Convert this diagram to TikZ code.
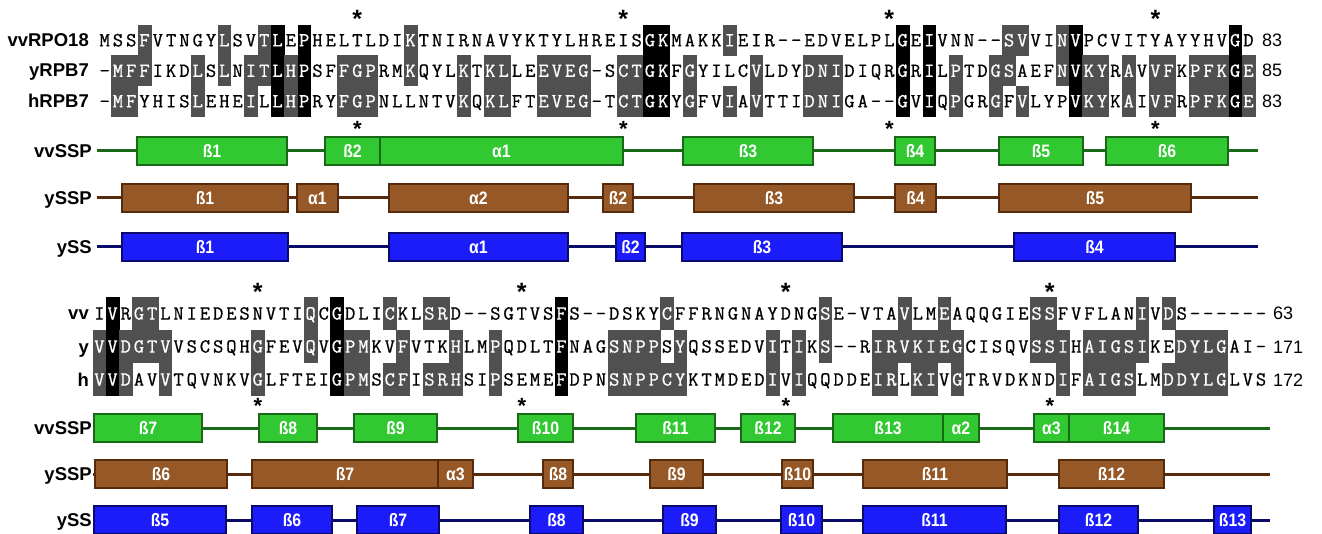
\documentclass[tikz,border=0pt]{standalone}
\usepackage{fontspec}
\setmainfont{Liberation Sans}
\setmonofont{Latin Modern Mono}[FakeBold=0.8]
\newfontfamily\elfont{Liberation Sans}[FakeStretch=0.88]
\usepackage{xstring}

\definecolor{idgray}{RGB}{80,80,80}
\definecolor{vvfill}{RGB}{50,200,50}
\definecolor{vvdark}{RGB}{25,105,25}
\definecolor{ysspfill}{RGB}{150,88,38}
\definecolor{ysspdark}{RGB}{88,42,12}
\definecolor{yssfill}{RGB}{28,28,250}
\definecolor{yssdark}{RGB}{10,10,105}

\pgfdeclarelayer{background}
\pgfsetlayers{background,main}

\tikzset{
  res/.style={font=\ttfamily\fontsize{20}{20}\selectfont, inner sep=0pt, anchor=base},
  seqname/.style={font=\bfseries\fontsize{18.5}{18.5}\selectfont, inner sep=0pt, anchor=base east},
  seqnum/.style={font=\fontsize{18}{18}\selectfont, inner sep=0pt, anchor=base west},
  star/.style={font=\bfseries\fontsize{25}{25}\selectfont, inner sep=0pt, anchor=base,
    text depth=-9pt},
  ssstar/.style={star, font=\bfseries\fontsize{22}{22}\selectfont, text depth=-8pt},
  element/.style={inner sep=0pt, minimum height=28.5pt, line width=1.8pt, text=white,
    font=\elfont\bfseries\fontsize{18}{18}\selectfont},
  vvel/.style={element, draw=vvdark, fill=vvfill},
  ysspel/.style={element, draw=ysspdark, fill=ysspfill},
  yssel/.style={element, draw=yssdark, fill=yssfill},
  vvline/.style={vvdark, line width=3pt},
  ysspline/.style={ysspdark, line width=3pt},
  yssline/.style={yssdark, line width=3pt}
}

% one residue: name, x-left, y-top, width, height, state (0 none, 1 pair, 2 all), letter
\newcommand{\rescell}[7]{%
  \ifcase#6\relax
    \node[res] (#1) at ({#2+#4/2},{#3+#5/2+6.1}) {#7};
  \or
    \begin{pgfonlayer}{background}
      \fill[idgray] (#2,#3) rectangle ++({#4+0.4},{#5+0.4});
    \end{pgfonlayer}
    \node[res, text=white] (#1) at ({#2+#4/2},{#3+#5/2+6.1}) {#7};
  \or
    \begin{pgfonlayer}{background}
      \fill[black] (#2,#3) rectangle ++({#4+0.4},{#5+0.4});
    \end{pgfonlayer}
    \node[res, text=white] (#1) at ({#2+#4/2},{#3+#5/2+6.1}) {#7};
  \fi}

\def\gapres{-}
% alignment block: x0, column width, y-top, row height, columns, three sequences, prefix
\newcommand{\alignblock}[9]{%
  \pgfmathsetmacro\rowb{#3+#4}%
  \pgfmathsetmacro\rowc{#3+2*#4}%
  \foreach \i in {1,...,#5}{%
    \StrChar{#6}{\i}[\resA]\StrChar{#7}{\i}[\resB]\StrChar{#8}{\i}[\resC]%
    \edef\resA{\resA}\edef\resB{\resB}\edef\resC{\resC}%
    \def\stA{0}\def\stB{0}\def\stC{0}%
    \ifx\resA\resB\def\stA{1}\def\stB{1}\fi
    \ifx\resA\resC\def\stA{1}\def\stC{1}\fi
    \ifx\resB\resC\def\stB{1}\def\stC{1}\fi
    \ifx\resA\resB\ifx\resB\resC\def\stA{2}\def\stB{2}\def\stC{2}\fi\fi
    \ifx\resA\gapres\def\stA{0}\fi
    \ifx\resB\gapres\def\stB{0}\fi
    \ifx\resC\gapres\def\stC{0}\fi
    \pgfmathsetmacro\xl{#1+(\i-1)*#2}%
    \rescell{#9a\i}{\xl}{#3}{#2}{#4}{\stA}{\resA}%
    \rescell{#9b\i}{\xl}{\rowb}{#2}{#4}{\stB}{\resB}%
    \rescell{#9c\i}{\xl}{\rowc}{#2}{#4}{\stC}{\resC}%
  }}

% secondary structure element: style, name, x-left, x-right, y, label
\newcommand{\sselem}[6]{%
  \node[#1, minimum width={(#4-#3)*1pt}] (#2) at ({(#3+#4)/2},#5) {#6};}

\def\seqvvA{MSSFVTNGYLSVTLEPHELTLDIKTNIRNAVYKTYLHREISGKMAKKIEIR--EDVELPLGEIVNN--SVVINVPCVITYAYYHVGD}
\def\seqyA{-MFFIKDLSLNITLHPSFFGPRMKQYLKTKLLEEVEG-SCTGKFGYILCVLDYDNIDIQRGRILPTDGSAEFNVKYRAVVFKPFKGE}
\def\seqhA{-MFYHISLEHEILLHPRYFGPNLLNTVKQKLFTEVEG-TCTGKYGFVIAVTTIDNIGA--GVIQPGRGFVLYPVKYKAIVFRPFKGE}
\def\seqvvB{IVRGTLNIEDESNVTIQCGDLICKLSRD--SGTVSFS--DSKYCFFRNGNAYDNGSE-VTAVLMEAQQGIESSFVFLANIVDS------}
\def\seqyB{VVDGTVVSCSQHGFEVQVGPMKVFVTKHLMPQDLTFNAGSNPPSYQSSEDVITIKS--RIRVKIEGCISQVSSIHAIGSIKEDYLGAI-}
\def\seqhB{VVDAVVTQVNKVGLFTEIGPMSCFISRHSIPSEMEFDPNSNPPCYKTMDEDIVIQQDDEIRLKIVGTRVDKNDIFAIGSLMDDYLGLVS}

\begin{document}
\begin{tikzpicture}[x=1pt, y=-1pt]
  \useasboundingbox (0,0) rectangle (1322,534);
  \begin{pgfonlayer}{background}
    \fill[white] (0,0) rectangle (1322,534);
  \end{pgfonlayer}

  % first alignment block
  \alignblock{98}{13.3}{25}{30.5}{87}{\seqvvA}{\seqyA}{\seqhA}{A}
  \node[seqname] (nameA1) at (89,46.5) {vvRPO18};
  \node[seqname] (nameA2) at (89,77) {yRPB7};
  \node[seqname] (nameA3) at (89,107.5) {hRPB7};
  \node[seqnum] (numA1) at (1262,46.5) {83};
  \node[seqnum] (numA2) at (1262,77) {85};
  \node[seqnum] (numA3) at (1262,107.5) {83};
  \foreach \c [count=\k] in {20,40,60,80} {
    \node[star] (starA\k) at ({98+(\c-0.5)*13.3},28) {*};
    \node[ssstar] (starSA\k) at ({98+(\c-0.5)*13.3},137) {*};
  }

  % first secondary structure rows
  \node[seqname] (ssnameA1) at (92,157.5) {vvSSP};
  \node[seqname] (ssnameA2) at (92,204.5) {ySSP};
  \node[seqname] (ssnameA3) at (92,253.5) {ySS};
  \coordinate (vvSA) at (97,151);  \coordinate (vvEA) at (1258,151);
  \coordinate (ysSA) at (97,198);  \coordinate (ysEA) at (1258,198);
  \coordinate (ySA) at (97,247);   \coordinate (yEA) at (1258,247);
  \draw[vvline] (vvSA) -- (vvEA);
  \draw[ysspline] (ysSA) -- (ysEA);
  \draw[yssline] (ySA) -- (yEA);

  \sselem{vvel}{vvA1}{137}{287}{151}{ß1}
  \sselem{vvel}{vvA2}{325}{380}{151}{ß2}
  \sselem{vvel}{vvA3}{380}{623}{151}{α1}
  \sselem{vvel}{vvA4}{683}{813}{151}{ß3}
  \sselem{vvel}{vvA5}{895}{935}{151}{ß4}
  \sselem{vvel}{vvA6}{999}{1083}{151}{ß5}
  \sselem{vvel}{vvA7}{1106}{1228}{151}{ß6}

  \sselem{ysspel}{ysA1}{122}{288}{198}{ß1}
  \sselem{ysspel}{ysA2}{297}{338}{198}{α1}
  \sselem{ysspel}{ysA3}{389}{568}{198}{α2}
  \sselem{ysspel}{ysA4}{603}{633}{198}{ß2}
  \sselem{ysspel}{ysA5}{694}{854}{198}{ß3}
  \sselem{ysspel}{ysA6}{895}{936}{198}{ß4}
  \sselem{ysspel}{ysA7}{999}{1191}{198}{ß5}

  \sselem{yssel}{yA1}{122}{288}{247}{ß1}
  \sselem{yssel}{yA2}{389}{568}{247}{α1}
  \sselem{yssel}{yA3}{616}{645}{247}{ß2}
  \sselem{yssel}{yA4}{682}{842}{247}{ß3}
  \sselem{yssel}{yA5}{1014}{1175}{247}{ß4}

  % second alignment block
  \alignblock{92.8}{13.2}{297}{33}{89}{\seqvvB}{\seqyB}{\seqhB}{B}
  \node[seqname] (nameB1) at (89,320) {vv};
  \node[seqname] (nameB2) at (89,353) {y};
  \node[seqname] (nameB3) at (89,386) {h};
  \node[seqnum] (numB1) at (1273,320) {63};
  \node[seqnum] (numB2) at (1273,353) {171};
  \node[seqnum] (numB3) at (1273,386) {172};
  \foreach \c [count=\k] in {13,33,53,73} {
    \node[star] (starB\k) at ({92.8+(\c-0.5)*13.2},301) {*};
    \node[ssstar] (starSB\k) at ({92.8+(\c-0.5)*13.2},413) {*};
  }

  % second secondary structure rows
  \node[seqname] (ssnameB1) at (92,434.5) {vvSSP};
  \node[seqname] (ssnameB2) at (92,480.5) {ySSP};
  \node[seqname] (ssnameB3) at (92,526.5) {ySS};
  \coordinate (vvSB) at (93,428);  \coordinate (vvEB) at (1270,428);
  \coordinate (ysSB) at (93,474);  \coordinate (ysEB) at (1270,474);
  \coordinate (ySB) at (93,520);   \coordinate (yEB) at (1270,520);
  \draw[vvline] (vvSB) -- (vvEB);
  \draw[ysspline] (ysSB) -- (ysEB);
  \draw[yssline] (ySB) -- (yEB);

  \sselem{vvel}{vvB1}{94}{202}{428}{ß7}
  \sselem{vvel}{vvB2}{259}{317}{428}{ß8}
  \sselem{vvel}{vvB3}{354}{437}{428}{ß9}
  \sselem{vvel}{vvB4}{518}{573}{428}{ß10}
  \sselem{vvel}{vvB5}{636}{715}{428}{ß11}
  \sselem{vvel}{vvB6}{741}{795}{428}{ß12}
  \sselem{vvel}{vvB7}{833}{943}{428}{ß13}
  \sselem{vvel}{vvB8}{943}{979}{428}{α2}
  \sselem{vvel}{vvB9}{1034}{1069}{428}{α3}
  \sselem{vvel}{vvB10}{1069}{1164}{428}{ß14}

  \sselem{ysspel}{ysB1}{95}{227}{474}{ß6}
  \sselem{ysspel}{ysB2}{252}{438}{474}{ß7}
  \sselem{ysspel}{ysB3}{438}{473}{474}{α3}
  \sselem{ysspel}{ysB4}{543}{573}{474}{ß8}
  \sselem{ysspel}{ysB5}{650}{703}{474}{ß9}
  \sselem{ysspel}{ysB6}{782}{813}{474}{ß10}
  \sselem{ysspel}{ysB7}{863}{1007}{474}{ß11}
  \sselem{ysspel}{ysB8}{1059}{1164}{474}{ß12}

  \sselem{yssel}{yB1}{94}{226}{520}{ß5}
  \sselem{yssel}{yB2}{252}{332}{520}{ß6}
  \sselem{yssel}{yB3}{357}{439}{520}{ß7}
  \sselem{yssel}{yB4}{530}{583}{520}{ß8}
  \sselem{yssel}{yB5}{663}{716}{520}{ß9}
  \sselem{yssel}{yB6}{781}{822}{520}{ß10}
  \sselem{yssel}{yB7}{863}{1006}{520}{ß11}
  \sselem{yssel}{yB8}{1059}{1138}{520}{ß12}
  \sselem{yssel}{yB9}{1214}{1251}{520}{ß13}
\end{tikzpicture}
\end{document}
